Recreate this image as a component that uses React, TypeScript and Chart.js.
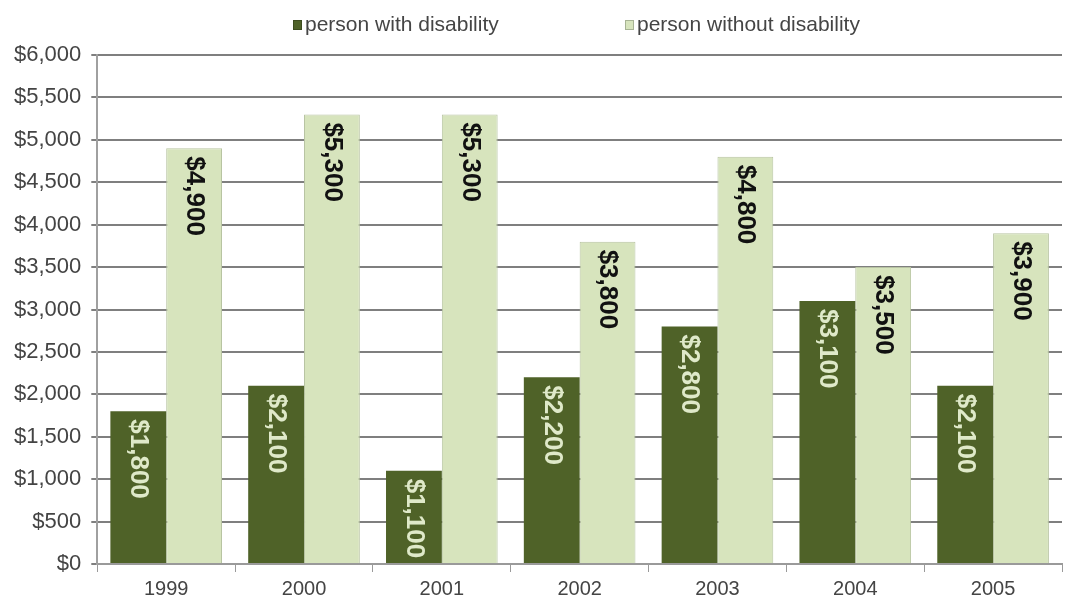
import React, { useEffect, useRef } from "react";
import { Chart, registerables } from "chart.js";

Chart.register(...registerables);

const years = ["1999", "2000", "2001", "2002", "2003", "2004", "2005"];
const withDisability = [1800, 2100, 1100, 2200, 2800, 3100, 2100];
const withoutDisability = [4900, 5300, 5300, 3800, 4800, 3500, 3900];
const seriesNames = ["person with disability", "person without disability"];
const seriesColors = ["#4f6228", "#d7e4bd"];

const fmt = (v: number) => "$" + v.toLocaleString("en-US");

const FONT = '"Liberation Sans", Arial, sans-serif';

const barLabels = {
  id: "barLabels",
  afterDatasetsDraw(chart: any) {
    const ctx = chart.ctx;
    chart.data.datasets.forEach((ds: any, i: number) => {
      const meta = chart.getDatasetMeta(i);
      meta.data.forEach((el: any, j: number) => {
        ctx.save();
        ctx.translate(el.x, el.y + 8);
        ctx.rotate(Math.PI / 2);
        ctx.font = "bold 26px " + FONT;
        ctx.fillStyle = i === 0 ? "#dfe9c9" : "#111111";
        ctx.textAlign = "left";
        ctx.textBaseline = "middle";
        ctx.fillText(fmt(ds.data[j]), 0, 0);
        ctx.restore();
      });
    });
  },
};

// legend drawn at the top, items spread like the original
const topLegend = {
  id: "topLegend",
  afterDraw(chart: any) {
    const ctx = chart.ctx;
    const positions = [293, 625];
    const cy = 25;
    ctx.save();
    ctx.font = "21px " + FONT;
    ctx.textBaseline = "middle";
    ctx.textAlign = "left";
    chart.data.datasets.forEach((ds: any, i: number) => {
      const x = positions[i];
      ctx.fillStyle = ds.backgroundColor;
      ctx.fillRect(x, cy - 5, 9, 10);
      ctx.strokeStyle = i === 0 ? "#3d4c1f" : "#a7b394";
      ctx.lineWidth = 1;
      ctx.strokeRect(x + 0.5, cy - 4.5, 8, 9);
      ctx.fillStyle = "#454545";
      ctx.fillText(ds.label, x + 12, cy);
    });
    ctx.restore();
  },
};

export default function App() {
  const ref = useRef<HTMLCanvasElement>(null);
  useEffect(() => {
    document.body.style.margin = "0";
    const chart = new Chart(ref.current!, {
      type: "bar",
      data: {
        labels: years,
        datasets: [
          {
            label: seriesNames[0],
            data: withDisability,
            backgroundColor: seriesColors[0],
            borderWidth: 0,
          },
          {
            label: seriesNames[1],
            data: withoutDisability,
            backgroundColor: seriesColors[1],
            borderColor: "#b8c4a2",
            borderWidth: 1,
          },
        ],
      },
      options: {
        animation: false,
        responsive: true,
        maintainAspectRatio: false,
        layout: { padding: { left: 4, right: 3, top: 55, bottom: 5 } },
        datasets: {
          bar: { categoryPercentage: 0.81, barPercentage: 1 },
        },
        plugins: {
          legend: { display: false },
          tooltip: { enabled: false },
        },
        scales: {
          x: {
            grid: {
              display: true,
              drawOnChartArea: false,
              drawTicks: true,
              tickLength: 8,
              offset: true,
              color: "#9a9a9a",
            },
            border: { color: "#9a9a9a", width: 2 },
            ticks: {
              color: "#444444",
              font: { family: FONT, size: 20 },
              padding: 5,
            },
          },
          y: {
            min: 0,
            max: 6000,
            grid: {
              color: "#7f7f7f",
              lineWidth: 2,
              tickLength: 6,
            },
            border: { color: "#a0a0a0", width: 2 },
            ticks: {
              stepSize: 500,
              color: "#444444",
              font: { family: FONT, size: 22 },
              padding: 10,
              callback: (v: any) => fmt(Number(v)),
            },
          },
        },
      },
      plugins: [barLabels, topLegend],
    });
    return () => chart.destroy();
  }, []);
  return (
    <div style={{ width: 1065, height: 611, position: "relative" }}>
      <canvas ref={ref} />
    </div>
  );
}
